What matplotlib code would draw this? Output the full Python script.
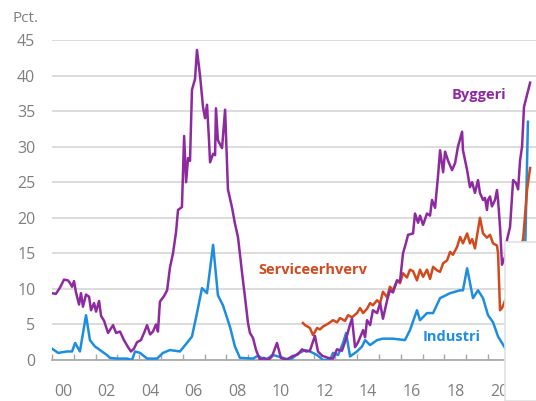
import matplotlib.pyplot as plt
from matplotlib.patches import Rectangle

plt.rcParams['font.family'] = ['Open Sans', 'DejaVu Sans']

# Byggeri (construction)
bygg_t = [2000.00, 2000.18, 2000.37, 2000.55, 2000.73, 2000.83, 2000.92, 2001.01, 2001.10, 2001.24,
          2001.33, 2001.42, 2001.56, 2001.70, 2001.79, 2001.93, 2002.02, 2002.16, 2002.25, 2002.39,
          2002.57, 2002.80, 2002.94, 2003.12, 2003.30, 2003.49, 2003.62, 2003.76, 2003.90, 2004.08,
          2004.22, 2004.36, 2004.50, 2004.63, 2004.77, 2004.86, 2004.95, 2005.14, 2005.28, 2005.41,
          2005.55, 2005.69, 2005.78, 2005.96, 2006.06, 2006.15, 2006.24, 2006.33, 2006.42, 2006.56,
          2006.65, 2006.79, 2006.93, 2007.02, 2007.11, 2007.20, 2007.25, 2007.39, 2007.48, 2007.52,
          2007.61, 2007.80, 2007.94, 2008.07, 2008.26, 2008.39, 2008.53, 2008.72, 2008.85, 2008.99,
          2009.08, 2009.22, 2009.36, 2009.54, 2009.72, 2009.91, 2010.09, 2010.32, 2010.50, 2010.73,
          2011.01, 2011.28, 2011.47, 2011.65, 2011.83, 2012.06, 2012.20, 2012.39, 2012.66, 2012.89,
          2013.07, 2013.30, 2013.49, 2013.67, 2013.76, 2013.90, 2014.04, 2014.27, 2014.36, 2014.45,
          2014.59, 2014.72, 2014.91, 2015.05, 2015.18, 2015.37, 2015.50, 2015.64, 2015.83, 2015.96,
          2016.10, 2016.24, 2016.33, 2016.56, 2016.65, 2016.79, 2016.88, 2017.02, 2017.20, 2017.34,
          2017.43, 2017.57, 2017.71, 2017.80, 2017.94, 2018.03, 2018.17, 2018.35, 2018.49, 2018.62,
          2018.81, 2018.85, 2019.04, 2019.17, 2019.27, 2019.40, 2019.54, 2019.63, 2019.77, 2019.86,
          2019.95, 2020.00, 2020.09, 2020.18, 2020.32, 2020.41, 2020.46, 2020.55, 2020.64, 2020.78,
          2020.87, 2021.01, 2021.15, 2021.28, 2021.38, 2021.47, 2021.56, 2021.65, 2021.79, 2021.93]
bygg_v = [9.4, 9.3, 10.2, 11.3, 11.2, 10.8, 10.3, 11.1, 9.5, 7.8,
          9.4, 7.5, 9.2, 8.9, 7.0, 8.0, 6.8, 8.3, 6.2, 5.5,
          3.8, 4.9, 3.8, 4.0, 2.8, 1.8, 1.2, 1.6, 2.5, 2.8,
          3.8, 4.9, 3.6, 4.0, 5.0, 4.0, 8.2, 9.0, 9.8, 13.0,
          15.0, 18.0, 21.1, 21.5, 31.5, 25.0, 28.4, 28.0, 38.0, 39.5,
          43.6, 40.0, 35.5, 34.0, 35.9, 31.0, 27.8, 29.0, 28.8, 35.4,
          30.9, 29.8, 35.2, 24.0, 21.4, 19.2, 17.3, 12.2, 8.9, 5.2,
          3.8, 3.1, 1.4, 0.0, 0.3, 0.0, 0.5, 2.4, 0.3, 0.0,
          0.5, 0.8, 1.5, 1.2, 1.3, 3.4, 1.2, 0.6, 0.3, 0.2,
          1.5, 1.3, 3.0, 5.0, 5.8, 1.8, 2.5, 4.2, 3.2, 5.6,
          4.9, 7.0, 6.6, 8.0, 5.8, 8.4, 9.8, 9.5, 11.2, 11.0,
          15.0, 16.5, 17.6, 17.8, 20.6, 19.3, 20.3, 19.0, 20.6, 20.3,
          22.5, 21.4, 26.0, 29.5, 26.4, 29.3, 28.0, 26.7, 27.7, 30.0,
          32.1, 29.5, 26.7, 24.3, 25.0, 23.5, 25.3, 23.5, 22.5, 22.8,
          21.1, 22.5, 23.0, 21.6, 22.5, 23.9, 22.5, 18.7, 13.4, 14.5,
          16.9, 18.7, 25.3, 24.9, 24.0, 28.1, 30.0, 35.6, 37.3, 39.0]

# Serviceerhverv (services)
serv_t = [2011.51, 2011.61, 2011.83, 2011.97, 2012.16, 2012.29, 2012.43, 2012.66, 2012.89, 2013.07,
          2013.21, 2013.44, 2013.58, 2013.76, 2013.99, 2014.13, 2014.27, 2014.45, 2014.59, 2014.72,
          2014.91, 2015.05, 2015.18, 2015.37, 2015.50, 2015.64, 2015.83, 2015.96, 2016.10, 2016.28,
          2016.42, 2016.56, 2016.74, 2016.88, 2017.02, 2017.20, 2017.34, 2017.48, 2017.66, 2017.80,
          2017.94, 2018.12, 2018.26, 2018.39, 2018.58, 2018.72, 2018.85, 2019.04, 2019.17, 2019.27,
          2019.40, 2019.54, 2019.63, 2019.77, 2019.95, 2020.09, 2020.23, 2020.41, 2020.46, 2020.55,
          2020.64, 2020.87, 2021.10, 2021.38, 2021.61, 2021.79, 2021.93]
serv_v = [5.2, 4.9, 4.5, 3.5, 4.5, 4.3, 4.7, 5.1, 5.6, 5.3,
          5.9, 5.5, 6.3, 6.0, 6.6, 7.3, 6.6, 7.2, 8.0, 7.7,
          8.4, 8.0, 9.6, 8.8, 10.3, 9.8, 11.2, 10.8, 12.2, 11.6,
          12.7, 12.5, 11.2, 12.7, 11.7, 12.7, 11.4, 13.1, 12.6, 12.4,
          13.6, 14.0, 15.2, 14.8, 15.9, 17.3, 16.4, 17.8, 16.4, 17.0,
          15.7, 18.3, 20.0, 17.8, 17.2, 17.6, 16.4, 16.1, 15.0, 7.0,
          7.3, 9.0, 12.0, 15.0, 17.0, 23.9, 27.0]

# Industri (manufacturing)
ind_t = [2000.00, 2000.28, 2000.69, 2000.92, 2001.06, 2001.28, 2001.56, 2001.74, 2001.97, 2002.20,
         2002.52, 2002.66, 2002.98, 2003.44, 2003.67, 2003.81, 2004.04, 2004.36, 2004.82, 2005.09,
         2005.41, 2005.87, 2006.19, 2006.42, 2006.65, 2006.88, 2007.11, 2007.39, 2007.61, 2007.84,
         2008.17, 2008.39, 2008.62, 2009.22, 2009.45, 2009.77, 2010.14, 2010.60, 2010.92, 2011.28,
         2011.61, 2011.83, 2012.16, 2012.43, 2012.75, 2012.89, 2013.12, 2013.35, 2013.49, 2013.67,
         2013.99, 2014.22, 2014.36, 2014.59, 2014.91, 2015.18, 2015.64, 2016.19, 2016.42, 2016.74,
         2016.88, 2017.20, 2017.48, 2017.80, 2018.26, 2018.72, 2018.85, 2019.04, 2019.31, 2019.54,
         2019.77, 2020.00, 2020.23, 2020.46, 2020.78, 2021.01, 2021.24, 2021.47, 2021.70, 2021.83]
ind_v = [1.6, 1.0, 1.2, 1.2, 2.4, 1.2, 6.3, 2.8, 1.9, 1.4,
         0.7, 0.3, 0.2, 0.2, 0.0, 1.2, 1.0, 0.2, 0.2, 1.0,
         1.4, 1.2, 2.4, 3.3, 6.6, 10.1, 9.4, 16.2, 9.1, 7.7,
         4.6, 1.9, 0.3, 0.2, 0.6, 0.0, 0.7, 0.3, 0.0, 0.9,
         1.4, 1.2, 0.7, 0.0, 0.0, 1.0, 0.7, 2.4, 3.8, 0.5,
         1.2, 1.9, 2.8, 2.1, 2.8, 3.0, 3.0, 2.8, 4.2, 7.0,
         5.6, 6.6, 6.6, 8.7, 9.4, 9.8, 9.8, 12.9, 8.7, 9.8,
         8.7, 6.3, 5.3, 3.3, 1.7, 0.8, 2.5, 5.0, 15.0, 33.5]

year_labels = ['00', '02', '04', '06', '08', '10', '12', '14', '16', '18', '20']
y_ticks = [0, 5, 10, 15, 20, 25, 30, 35, 40, 45]

PURPLE = '#8E2A9F'
RED = '#D04A1E'
BLUE = '#1E8DDE'
GREY = '#7f7f7f'

fig = plt.figure(figsize=(5.36, 4.01), dpi=100)
ax = fig.add_axes([52 / 536, 41 / 401, 1 - 52 / 536, 320 / 401])

ax.plot(ind_t, ind_v, color=BLUE, lw=1.8, zorder=3)
ax.plot(serv_t, serv_v, color=RED, lw=1.8, zorder=4)
ax.plot(bygg_t, bygg_v, color=PURPLE, lw=1.8, zorder=5)

ax.set_xlim(2000, 2022.2)
ax.set_ylim(0, 45)

ax.set_yticks(y_ticks)
ax.grid(axis='y', color='#d9d9d9', lw=1.3, zorder=0)
ax.tick_params(axis='y', length=0, pad=12, labelsize=11.5, labelcolor=GREY)

ax.set_xticks(range(2000, 2023))
ax.set_xticklabels([])
ax.tick_params(axis='x', which='major', direction='in', length=4, color='#a6a6a6', width=1)
ax.set_xticks([2000.5 + 2 * i for i in range(len(year_labels))], minor=True)
ax.set_xticklabels(year_labels, minor=True)
ax.tick_params(axis='x', which='minor', length=0, pad=17, labelsize=11.5, labelcolor=GREY)

for s in ['top', 'right', 'left']:
    ax.spines[s].set_visible(False)
ax.spines['bottom'].set_color('#a6a6a6')
ax.spines['bottom'].set_linewidth(1.2)

fig.text(13 / 536, 1 - 18 / 401, 'Pct.', color=GREY, fontsize=11, va='center', ha='left')

ax.text(2019.6, 37.2, 'Byggeri', color=PURPLE, fontsize=10.5, fontweight='bold', ha='center', va='center')
ax.text(2011.95, 12.6, 'Serviceerhverv', color=RED, fontsize=10.5, fontweight='bold', ha='center', va='center')
ax.text(2018.35, 3.2, 'Industri', color=BLUE, fontsize=10.5, fontweight='bold', ha='center', va='center')

# white box covering the lower right corner
fig.add_artist(Rectangle((505 / 536, 0), 40 / 536, 159 / 401, transform=fig.transFigure,
                         facecolor='white', edgecolor='#e2e2e2', lw=1.2, zorder=10))

fig.savefig('out.png', dpi=100)
